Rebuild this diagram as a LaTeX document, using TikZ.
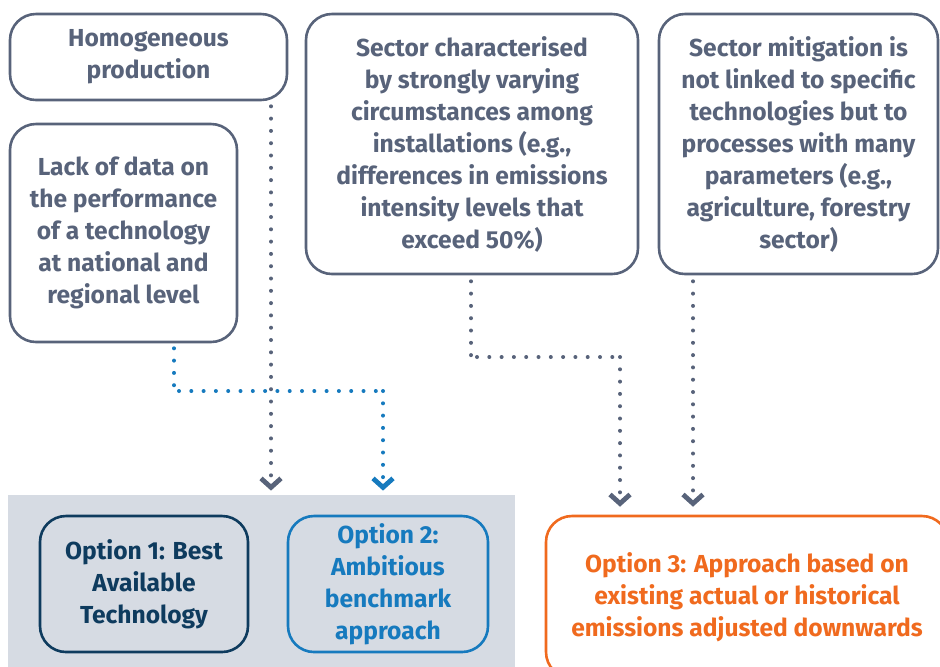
\documentclass[tikz,border=0pt]{standalone}
\usepackage{fontspec}
\setmainfont{Fira Sans}
\usetikzlibrary{arrows.meta}
\definecolor{slate}{RGB}{88,99,122}
\definecolor{panelgray}{RGB}{214,219,227}
\definecolor{navy}{RGB}{14,59,94}
\definecolor{optblue}{RGB}{22,122,190}
\definecolor{optorange}{RGB}{240,106,30}

\begin{document}
\begin{tikzpicture}[x=0.5pt,y=-0.5pt,
  box/.style={draw=slate,text=slate,line width=1.3pt,rounded corners=13pt,align=center,inner sep=0pt,
    font=\fontsize{12.3}{16}\selectfont\bfseries,execute at begin node=\rule{0pt}{12pt}},
  dots/.style={slate,line width=2pt,line cap=round,dash pattern=on 0pt off 6.15pt},
  tip/.style={-{Straight Barb[length=4.5pt,width=10pt,line width=2.4pt]}}]
\useasboundingbox (0,0) rectangle (940,666);
\clip (0,0) rectangle (940,666);

\node[box,minimum width=138.5pt,minimum height=43pt] (homog) at (148.5,57) {Homogeneous\\production};
\node[box,minimum width=113.5pt,minimum height=109pt] (lack) at (123.5,233) {Lack of data on\\the performance\\of a technology\\at national and\\regional level};
\node[box,minimum width=166pt,minimum height=130pt] (sector) at (472,144) {Sector characterised\\by strongly varying\\circumstances among\\installations (e.g.,\\differences in emissions\\intensity levels that\\exceed 50\%)};
\node[box,minimum width=139.5pt,minimum height=130pt] (mitig) at (798.5,144) {Sector mitigation is\\not linked to specific\\technologies but to\\processes with many\\parameters (e.g.,\\agriculture, forestry\\sector)};

\node[fill=panelgray,minimum width=253.5pt,minimum height=87.5pt,inner sep=0pt] (panel) at (261.5,582.5) {};
\node[box,draw=navy,text=navy,minimum width=104pt,minimum height=68pt] (opt1) at (144,584) {Option 1: Best\\Available\\Technology};
\node[box,draw=optblue,text=optblue,minimum width=100pt,minimum height=68pt] (opt2) at (388,584) {Option 2:\\Ambitious\\benchmark\\approach};
\node[box,draw=optorange,text=optorange,minimum width=201pt,minimum height=81pt] (opt3) at (747,597) {Option 3: Approach based on\\existing actual or historical\\emissions adjusted downwards};

\coordinate (homogx) at (271,0);
\coordinate (lackbend) at (174,391);
\coordinate (optbend) at (383,391);
\coordinate (sectorbend) at (471,357);
\coordinate (sectorx) at (620,357);
\coordinate (mitigx) at (693,0);

\draw[dots,shorten <=2.5pt,shorten >=2pt,tip] (homog.south -| homogx) -- (panel.north -| homogx);
\draw[dots,optblue,shorten <=2.5pt] (lack.south -| lackbend) edge (lackbend)
  (lackbend) edge (optbend)
  (optbend) edge[tip,shorten <=0pt,shorten >=2pt] (panel.north -| optbend);
\draw[dots,shorten <=3pt] (sector.south -| sectorbend) edge (sectorbend)
  (sectorbend) edge (sectorx)
  (sectorx) edge[tip,shorten <=0pt,shorten >=4pt] (opt3.north -| sectorx);
\draw[dots,shorten <=3pt,shorten >=4pt,tip] (mitig.south -| mitigx) -- (opt3.north -| mitigx);
\end{tikzpicture}
\end{document}
